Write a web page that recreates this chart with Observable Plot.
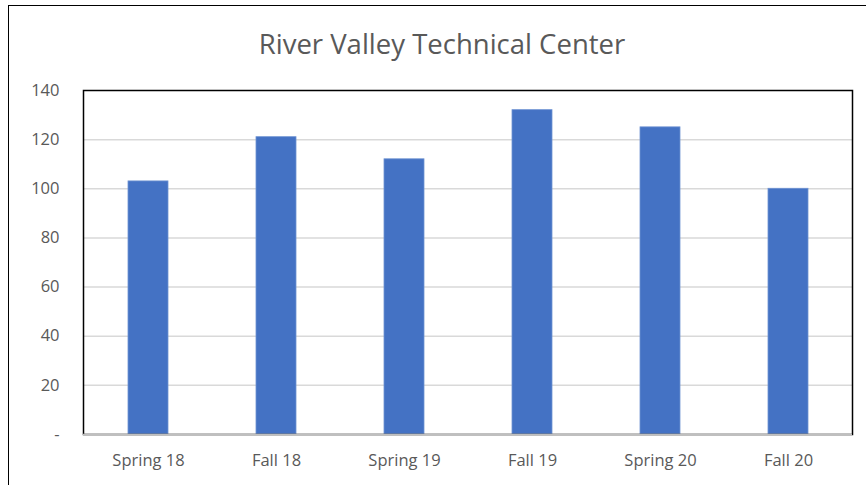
<!DOCTYPE html>
<html>
<head>
<meta charset="utf-8">
<script src="https://cdn.jsdelivr.net/npm/d3@7"></script>
<script src="https://cdn.jsdelivr.net/npm/@observablehq/plot@0.6"></script>
<style>
  html, body { margin: 0; padding: 0; background: #fff; overflow: hidden; }
  #wrap { position: relative; width: 866px; height: 485px; overflow: hidden; font-family: "Open Sans", sans-serif; }
  #outer { position: absolute; left: 8px; top: 5px; width: 900px; height: 520px; border-left: 1.5px solid #000; border-top: 1.5px solid #000; box-sizing: border-box; }
  #title { position: absolute; left: 0; top: 26px; width: 884px; height: 36px; text-align: center; line-height: 36px; font-size: 27.5px; color: #595959; }
  #chart { position: absolute; left: 0; top: 60px; }
</style>
</head>
<body>
<div id="wrap">
  <div id="outer"></div>
  <div id="title">River Valley Technical Center</div>
  <div id="chart"></div>
</div>
<script>
const terms = ["Spring 18", "Fall 18", "Spring 19", "Fall 19", "Spring 20", "Fall 20"];
const counts = [103, 121, 112, 132, 125, 100];
const yTicks = [0, 20, 40, 60, 80, 100, 120, 140];

const data = terms.map((t, i) => ({term: t, value: counts[i]}));

const chart = Plot.plot({
  width: 866,
  height: 425,
  marginLeft: 83,
  marginRight: 14,
  marginTop: 30,
  marginBottom: 51,
  style: {fontFamily: "'Open Sans', sans-serif", fontSize: "16.5px", color: "#595959", background: "transparent"},
  x: {domain: terms, paddingInner: 0.688, paddingOuter: 0.344, label: null},
  y: {domain: [0, 140], label: null},
  marks: [
    Plot.gridY(yTicks.filter(d => d > 0 && d < 140), {stroke: "#d9d9d9", strokeOpacity: 1, strokeWidth: 1.5}),
    Plot.barY(data, {x: "term", y: "value", fill: "#4472C4", stroke: "#6f93d3", strokeWidth: 0.8}),
    Plot.axisY(yTicks, {tickSize: 0, tickPadding: 24, tickFormat: d => d === 0 ? "-" : d, fill: "#595959", label: null}),
    Plot.axisX({tickSize: 0, tickPadding: 20, fill: "#595959", label: null}),
    Plot.frame({stroke: "#000", strokeWidth: 1.5}),
    Plot.ruleY([0], {stroke: "#bfbfbf", strokeWidth: 1.5})
  ]
});
document.getElementById("chart").appendChild(chart);
</script>
</body>
</html>
